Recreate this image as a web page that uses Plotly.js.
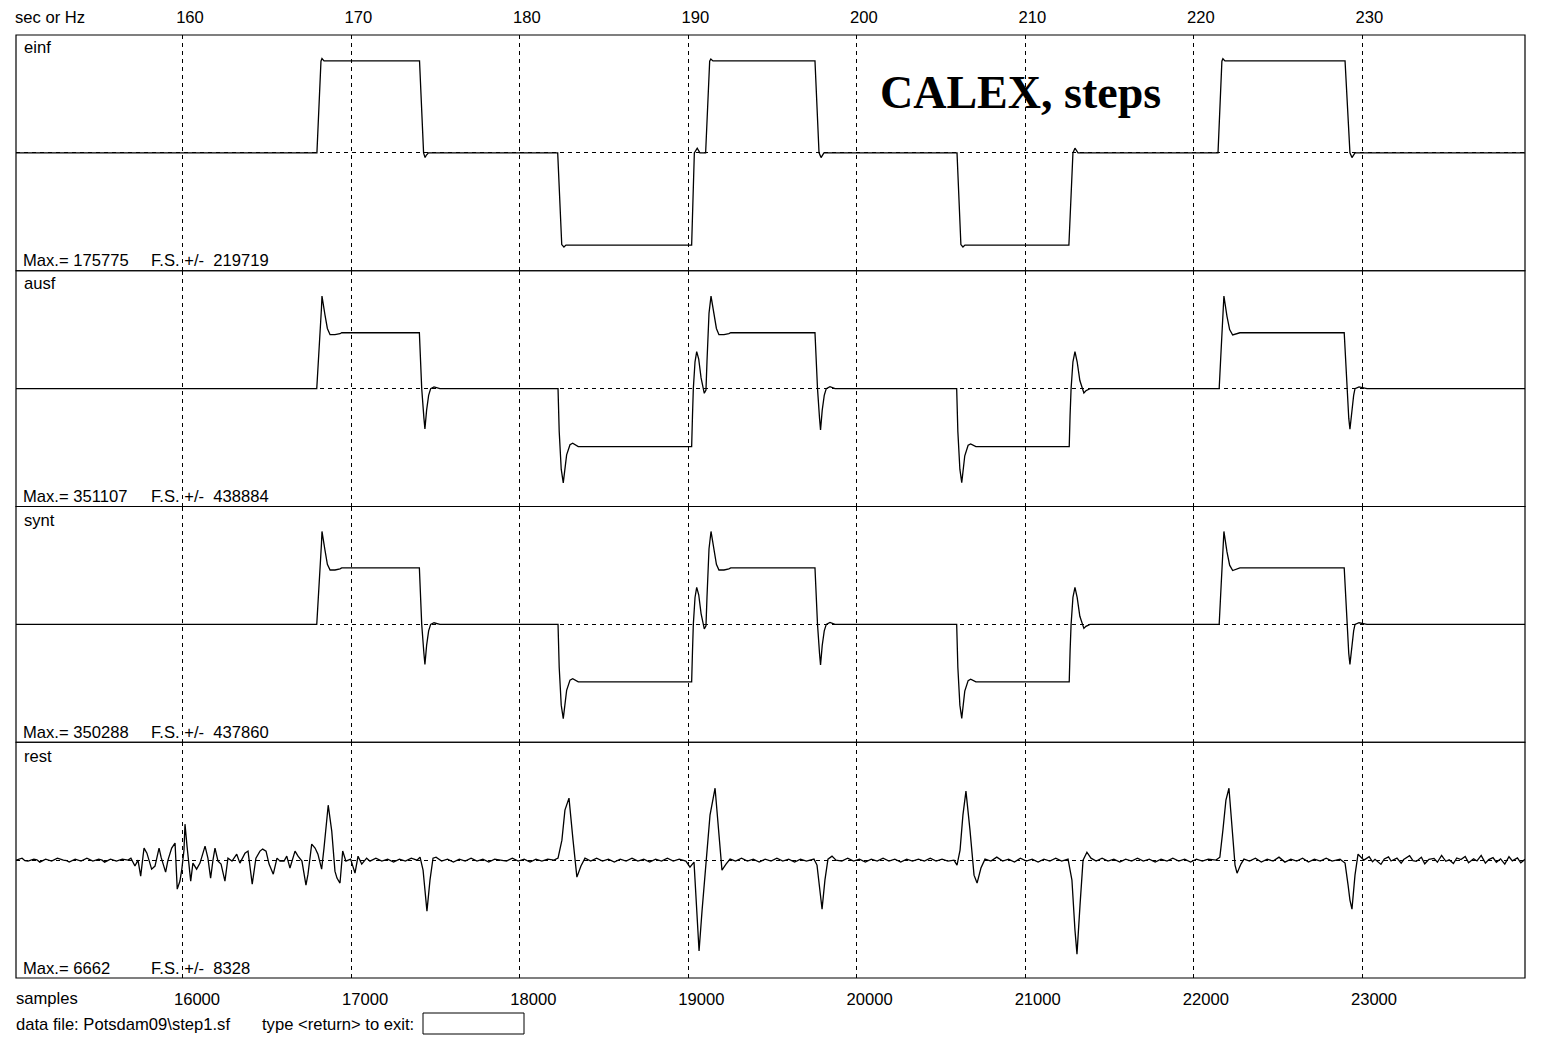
<!DOCTYPE html>
<html>
<head>
<meta charset="utf-8">
<script src="https://cdn.plot.ly/plotly-3.0.1.min.js"></script>
<style>
html,body{margin:0;padding:0;background:#fff;}
#chart{width:1545px;height:1050px;}
</style>
</head>
<body>
<div id="chart"></div>
<script>
// ---------- DATA (time in seconds, values in counts) ----------
const secTicks = [160, 170, 180, 190, 200, 210, 220, 230];
const sampleTicks = [16000, 17000, 18000, 19000, 20000, 21000, 22000, 23000];
const channelNames = ["einf", "ausf", "synt", "rest"];
const channelMax = [175775, 351107, 350288, 6662];
const channelFS = [219719, 438884, 437860, 8328];

const einfT = [150.09, 167.95, 168.19, 168.25, 168.37, 174.04, 174.28, 174.37, 174.45, 174.57,
  182.24, 182.48, 182.61, 182.73, 190.19, 190.35, 190.52, 190.68, 191.02, 191.26, 191.33, 191.45,
  197.51, 197.75, 197.87, 198.04, 205.94, 206.17, 206.29, 206.41, 212.58, 212.82, 212.94, 213.12,
  221.43, 221.66, 221.72, 221.84, 228.97, 229.26, 229.38, 229.56, 239.65];
const einfV = [0, 0, 171000, 175775, 171500, 171500, 0, -8700, -4000, 0,
  0, -171000, -175500, -171800, -171800, 0, 8700, 0, 0, 171000, 175000, 171500,
  171500, 0, -8700, 0, 0, -171000, -175500, -171800, -171800, 0, 8700, 0,
  0, 171000, 175500, 171500, 171500, 0, -8700, 0, 0];

const ausfT = [150.09, 167.94, 168.22, 168.25, 168.43, 168.57, 168.73, 169.02, 169.32, 169.42,
  174.03, 174.10, 174.17, 174.30, 174.36, 174.46, 174.58, 174.70, 174.90, 175.25,
  182.26, 182.33, 182.45, 182.57, 182.77, 182.97, 183.13, 183.46, 190.19, 190.24,
  190.29, 190.39, 190.49, 190.61, 190.75, 190.94, 191.04, 191.10, 191.22, 191.34,
  191.52, 191.66, 191.81, 192.11, 192.40, 192.51, 197.51, 197.58, 197.66, 197.78,
  197.84, 197.94, 198.06, 198.18, 198.40, 198.70,
  205.92, 205.99, 206.11, 206.22, 206.40, 206.60, 206.75, 207.06, 212.60, 212.65,
  212.71, 212.82, 212.94, 213.07, 213.23, 213.47, 213.59, 213.83,
  221.50, 221.62, 221.78, 221.96, 222.12, 222.30, 222.73, 228.92, 229.00, 229.07,
  229.19, 229.26, 229.36, 229.48, 229.56, 229.80, 230.27, 239.65];
const ausfV = [0, 0, 300000, 344700, 274000, 224000, 201000, 201000, 204500, 208000,
  208000, 100000, 0, -110000, -150000, -80000, -25000, 0, 6300, 0,
  0, -160000, -300000, -351107, -246600, -209000, -203500, -215700, -215700, -100000,
  0, 100000, 137600, 110000, 40000, -17500, -5000, 100000, 280000, 344700,
  274000, 224000, 201000, 201000, 204500, 208000, 208000, 100000, 0, -110000,
  -153600, -80000, -25000, 0, 7400, 0,
  0, -160000, -300000, -350000, -250000, -211000, -205700, -215700, -215700, -100000,
  0, 100000, 137600, 100000, 30000, -16000, -8000, 0,
  0, 150000, 344700, 270000, 220000, 199700, 208000, 208000, 100000, 0,
  -110000, -151300, -80000, -25000, 0, 6300, 0, 0];

const syntT = ausfT.slice();
const syntV = [0, 0, 300000, 345100, 275000, 223000, 202000, 202000, 206000, 209700,
  209700, 100000, 0, -108000, -148400, -78000, -24000, 0, 6000, 0,
  0, -160000, -300000, -350288, -245000, -207000, -202000, -213400, -213400, -100000,
  0, 100000, 137300, 110000, 40000, -17000, -5000, 100000, 280000, 345100,
  275000, 223000, 202000, 202000, 206000, 209700, 209700, 100000, 0, -108000,
  -151000, -78000, -24000, 0, 7000, 0,
  0, -160000, -300000, -349000, -248000, -209000, -204000, -213400, -213400, -100000,
  0, 100000, 137300, 100000, 30000, -15000, -7500, 0,
  0, 150000, 345100, 270000, 220000, 200000, 209700, 209700, 100000, 0,
  -108000, -148400, -78000, -24000, 0, 6000, 0, 0];

const restPts = [
  [150.09,0],[150.3,90],[150.45,140],[150.62,-40],[150.8,-70],[151.15,70],[151.33,20],[151.5,-140],[151.85,70],[152.2,-70],
  [152.4,30],[152.55,140],[152.9,0],[153.1,-40],[153.25,-140],[153.6,70],[153.95,-70],[154.15,30],[154.3,140],[154.65,-70],
  [155.0,70],[155.2,0],[155.35,-140],[155.7,70],[156.05,-70],[156.4,70],[156.74,0],
  [156.91,140],[157.15,-420],[157.33,0],[157.49,-1130],[157.63,280],[157.69,850],[157.86,490],[158.14,-640],[158.34,-420],[158.58,850],
  [158.70,210],[158.97,-850],[159.11,0],[159.33,850],[159.53,1200],[159.66,-2050],[159.82,-1480],[159.94,-560],[160.06,710],[160.12,2540],
  [160.24,990],[160.46,-1480],[160.59,-210],[160.81,-640],[161.01,-210],[161.31,990],[161.48,140],[161.64,-1270],[161.78,0],[161.90,850],
  [162.08,-70],[162.26,-280],[162.49,-1480],[162.67,140],[162.91,-70],[163.19,420],[163.38,-210],[163.68,490],[163.86,640],[164.11,-1690],
  [164.33,140],[164.57,640],[164.73,780],[164.93,640],[165.11,-280],[165.36,-990],[165.58,140],[165.76,-70],[166.00,-70],[166.16,280],
  [166.35,-560],[166.65,640],[166.83,280],[167.06,-70],[167.30,-1770],[167.42,-990],[167.64,1130],[167.84,850],[168.01,420],[168.23,-640],
  [168.37,850],[168.62,3880],[168.83,2050],[169.02,-780],[169.14,-1270],[169.32,-1620],[169.48,640],[169.67,-70],[169.95,70],[170.21,-920],
  [170.39,280],[170.61,-280],[170.90,140],[171.10,-70],
  [171.45,140],[171.8,-70],[172.15,70],[172.5,-140],[172.85,70],[173.2,-70],[173.55,140],[173.89,0],
  [174.07,210],[174.25,-710],[174.48,-3600],[174.66,-1410],[174.84,140],[175.02,210],
  [175.35,-70],[175.7,70],[176.05,-140],[176.4,70],[176.75,-70],[177.1,140],[177.45,-70],[177.8,70],[178.15,-140],[178.5,70],
  [178.85,0],[179.2,-70],[179.55,140],[179.9,-70],[180.25,70],[180.6,-140],[180.95,70],[181.3,-70],[181.65,70],[182.02,0],
  [182.26,140],[182.49,1410],[182.67,3530],[182.91,4380],[183.15,1410],[183.38,-1200],[183.62,-420],[183.86,140],
  [184.2,-70],[184.55,140],[184.9,-70],[185.25,70],[185.6,-140],[185.95,70],[186.3,-70],[186.65,140],[187.0,-70],[187.35,70],
  [187.7,-140],[188.05,70],[188.4,-70],[188.75,140],[189.1,-70],[189.45,70],[189.85,-70],
  [190.09,-490],[190.33,-140],[190.45,-2820],[190.63,-6420],[190.81,-3530],[191.04,0],[191.28,3180],[191.58,5080],[191.75,2820],[191.99,-710],
  [192.23,-280],[192.47,70],
  [192.8,-70],[193.15,140],[193.5,-70],[193.85,70],[194.2,-140],[194.55,70],[194.9,-70],[195.25,140],[195.6,-70],[195.95,70],
  [196.3,-140],[196.65,70],[197.0,-70],[197.45,70],
  [197.63,-350],[197.81,-2470],[197.93,-3460],[198.10,-1410],[198.28,70],[198.52,280],[198.76,0],
  [199.1,-70],[199.45,140],[199.8,-70],[200.15,70],[200.5,-140],[200.85,70],[201.2,-70],[201.55,140],[201.9,-70],[202.25,70],
  [202.6,-140],[202.95,70],[203.3,-70],[203.65,70],[204.0,-70],[204.35,140],[204.7,-70],[205.05,70],[205.4,-70],[205.76,0],
  [205.94,-350],[206.12,710],[206.29,3180],[206.47,4870],[206.71,2120],[206.95,-1060],[207.13,-1620],[207.36,-560],[207.60,70],
  [207.95,-70],[208.3,210],[208.65,-70],[209.0,70],[209.35,-140],[209.7,140],[210.05,-70],[210.4,70],[210.75,-140],[211.1,70],
  [211.45,-70],[211.8,140],[212.15,-70],[212.53,70],
  [212.76,-1410],[212.94,-4940],[213.06,-6640],[213.24,-3180],[213.42,0],[213.65,560],[213.89,140],
  [214.2,-70],[214.55,140],[214.9,-70],[215.25,70],[215.6,-140],[215.95,70],[216.3,-70],[216.65,140],[217.0,-70],[217.35,70],
  [217.7,-140],[218.05,70],[218.4,-70],[218.75,140],[219.1,-70],[219.45,70],[219.8,-140],[220.15,70],[220.5,-70],[220.85,70],[221.31,0],
  [221.54,210],[221.72,2120],[221.90,4240],[222.08,5080],[222.26,2470],[222.44,-350],[222.56,-920],[222.79,-280],[222.97,70],
  [223.3,-70],[223.65,140],[224.0,-140],[224.35,70],[224.7,-70],[225.05,210],[225.4,-140],[225.75,70],[226.1,-70],[226.45,140],
  [226.8,-140],[227.15,70],[227.5,-70],[227.85,140],[228.2,-70],[228.67,70],
  [228.97,-210],[229.15,-1770],[229.26,-2820],[229.38,-3460],[229.56,-1060],[229.74,420],[229.92,210],[230.09,0],
  [230.4,250],[230.6,-120],[230.75,60],[231.1,-300],[231.3,80],[231.55,230],[231.7,-60],[232.05,140],[232.3,-220],[232.45,40],
  [232.8,310],[233.0,-40],[233.2,-90],[233.5,200],[233.7,-260],[233.95,60],[234.25,120],[234.45,-150],[234.7,330],[234.95,-80],
  [235.15,20],[235.4,-240],[235.6,150],[235.85,40],[236.1,260],[236.3,-180],[236.6,100],[236.8,-60],[237.05,330],[237.3,-210],
  [237.5,40],[237.75,180],[237.95,-150],[238.2,90],[238.45,-280],[238.7,240],[238.9,-50],[239.2,160],[239.4,-190],[239.65,60]
];

// ---------- LAYOUT HELPERS (pixel placement of plot area) ----------
const W = 1545, H = 1050;
const L = 16, R = 1525, T = 35, B = 978;
const xp = px => (px - L) / (R - L);
const yp = py => (B - py) / (B - T);
const FONT = 'Liberation Sans, Arial, sans-serif';
const FS = 16.6;

const series = [
  {x: einfT, y: einfV},
  {x: ausfT, y: ausfV},
  {x: syntT, y: syntV},
  {x: restPts.map(p => p[0]), y: restPts.map(p => p[1])}
];
const yNames = ['y', 'y2', 'y3', 'y4'];
const traces = series.map((s, i) => ({
  type: 'scatter', mode: 'lines', x: s.x, y: s.y,
  xaxis: 'x', yaxis: yNames[i],
  line: {color: '#000', width: 1.3, shape: 'linear'},
  hoverinfo: 'skip', showlegend: false
}));
traces.push({type: 'scatter', mode: 'lines', x: [], y: [], xaxis: 'x2', yaxis: 'y4', showlegend: false, hoverinfo: 'skip'});

const layout = {
  width: W, height: H,
  margin: {l: L, r: W - R, t: T, b: H - B, pad: 0},
  paper_bgcolor: '#fff', plot_bgcolor: 'rgba(0,0,0,0)',
  showlegend: false,
  font: {family: FONT, size: FS, color: '#000'},
  xaxis: {
    range: [150.09, 239.65], side: 'top', anchor: 'y',
    tickvals: secTicks, ticktext: secTicks.map(String),
    showgrid: true, gridcolor: '#000', gridwidth: 1, griddash: '4px,4px',
    zeroline: false, showline: false, ticks: '',
    tickfont: {family: FONT, size: FS, color: '#000'},
    ticklabelshift: 7, ticklabelstandoff: 8, fixedrange: true
  },
  xaxis2: {
    range: [14923.5, 23898], side: 'bottom', anchor: 'y4', overlaying: 'x',
    tickvals: sampleTicks, ticktext: sampleTicks.map(String),
    showgrid: false, zeroline: false, showline: false, ticks: '',
    tickfont: {family: FONT, size: FS, color: '#000'},
    ticklabelstandoff: 9, fixedrange: true
  },
  shapes: [],
  annotations: []
};

for (let i = 0; i < 4; i++) {
  const key = i === 0 ? 'yaxis' : 'yaxis' + (i + 1);
  const top = 1 - i * 0.25, bot = 1 - (i + 1) * 0.25;
  layout[key] = {
    domain: [bot, top], anchor: 'x',
    range: [-channelFS[i], channelFS[i]],
    tickvals: [0], showticklabels: false, ticks: '',
    showgrid: true, gridcolor: '#000', gridwidth: 1, griddash: '4px,4px',
    zeroline: false, showline: false, fixedrange: true
  };
  layout.shapes.push({type: 'rect', xref: 'paper', yref: 'paper', x0: 0, x1: 1, y0: bot, y1: top,
    line: {color: '#000', width: 1.2}, fillcolor: 'rgba(0,0,0,0)', layer: 'above'});
  const labelY = [47, 283, 520, 756][i];
  const maxY = [260, 496, 732, 968][i];
  layout.annotations.push({xref: 'paper', yref: 'paper', x: xp(22), y: yp(labelY), xanchor: 'left', yanchor: 'middle',
    text: channelNames[i], showarrow: false, font: {family: FONT, size: FS, color: '#000'}});
  layout.annotations.push({xref: 'paper', yref: 'paper', x: xp(21), y: yp(maxY), xanchor: 'left', yanchor: 'middle',
    text: 'Max.= ' + channelMax[i], showarrow: false, font: {family: FONT, size: FS, color: '#000'}});
  layout.annotations.push({xref: 'paper', yref: 'paper', x: xp(149), y: yp(maxY), xanchor: 'left', yanchor: 'middle',
    text: 'F.S. +/-\u00a0 ' + channelFS[i], showarrow: false, font: {family: FONT, size: FS, color: '#000'}});
}

layout.annotations.push(
  {xref: 'paper', yref: 'paper', x: xp(13), y: yp(17), xanchor: 'left', yanchor: 'middle', showarrow: false,
   text: 'sec or Hz', font: {family: FONT, size: FS, color: '#000'}},
  {xref: 'paper', yref: 'paper', x: xp(14), y: yp(998), xanchor: 'left', yanchor: 'middle', showarrow: false,
   text: 'samples', font: {family: FONT, size: FS, color: '#000'}},
  {xref: 'paper', yref: 'paper', x: xp(14), y: yp(1024), xanchor: 'left', yanchor: 'middle', showarrow: false,
   text: 'data file: Potsdam09\\step1.sf', font: {family: FONT, size: FS, color: '#000'}},
  {xref: 'paper', yref: 'paper', x: xp(260), y: yp(1024), xanchor: 'left', yanchor: 'middle', showarrow: false,
   text: 'type &lt;return&gt; to exit:', font: {family: FONT, size: FS, color: '#000'}},
  {xref: 'paper', yref: 'paper', x: xp(1021), y: yp(92), xanchor: 'center', yanchor: 'middle', showarrow: false,
   text: '<b>CALEX, steps</b>', font: {family: 'Liberation Serif, Times New Roman, serif', size: 46, color: '#000'}}
);
layout.shapes.push({type: 'rect', xref: 'paper', yref: 'paper', x0: xp(423), x1: xp(524), y0: yp(1034), y1: yp(1013),
  line: {color: '#000', width: 1}, fillcolor: 'rgba(0,0,0,0)'});

Plotly.newPlot('chart', traces, layout, {staticPlot: true, displayModeBar: false});
</script>
</body>
</html>
